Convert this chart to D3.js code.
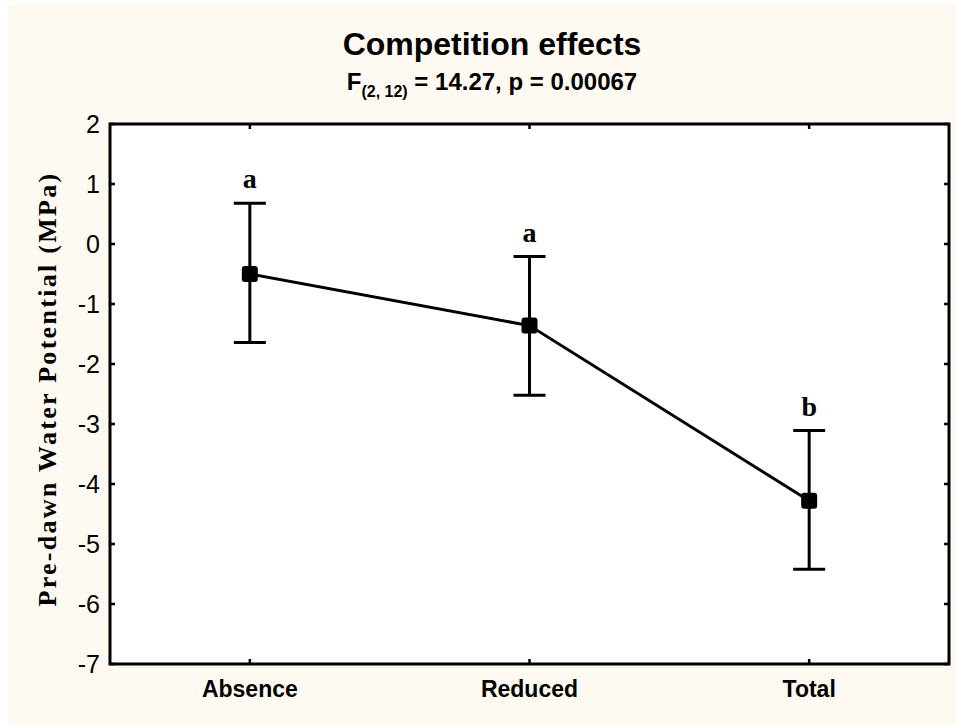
<!DOCTYPE html>
<html><head><meta charset="utf-8">
<script src="https://cdn.jsdelivr.net/npm/d3@7"></script>
<style>html,body{margin:0;padding:0;background:#fff;}</style>
</head><body>
<script>
const categories = ["Absence", "Reduced", "Total"];
const means = [-0.50, -1.36, -4.28];
const upper = [0.68, -0.21, -3.11];
const lower = [-1.64, -2.52, -5.42];
const letters = ["a", "a", "b"];
const yTicks = [2, 1, 0, -1, -2, -3, -4, -5, -6, -7];

const W = 956, H = 725;
const svg = d3.select("body").append("svg").attr("width", W).attr("height", H);
svg.append("rect").attr("x", 8).attr("y", 5).attr("width", W - 8).attr("height", H - 5).attr("fill", "#fffaf1");

const L = 110, R = 949, T = 124, B = 664;
svg.append("rect").attr("x", L).attr("y", T).attr("width", R - L).attr("height", B - T).attr("fill", "#fff");

const x = d3.scalePoint().domain(categories).range([L, R]).padding(0.5);
const y = d3.scaleLinear().domain([-7, 2]).range([B, T]);

const sans = "Liberation Sans, Arial, sans-serif";
const serif = "Liberation Serif, Times New Roman, serif";

const g = svg.append("g");
yTicks.forEach(t => {
  g.append("line").attr("x1", L).attr("x2", L + 5).attr("y1", y(t)).attr("y2", y(t)).attr("stroke", "#000").attr("stroke-width", 2.5);
  g.append("line").attr("x1", R - 5).attr("x2", R).attr("y1", y(t)).attr("y2", y(t)).attr("stroke", "#000").attr("stroke-width", 2.5);
  g.append("text").attr("x", 100).attr("y", y(t)).attr("dy", "0.36em").attr("text-anchor", "end")
    .attr("font-family", sans).attr("font-size", 25).attr("fill", "#000").text(t);
});
categories.forEach(c => {
  g.append("line").attr("x1", x(c)).attr("x2", x(c)).attr("y1", B).attr("y2", B - 5).attr("stroke", "#000").attr("stroke-width", 2.5);
  g.append("line").attr("x1", x(c)).attr("x2", x(c)).attr("y1", T).attr("y2", T + 5).attr("stroke", "#000").attr("stroke-width", 2.5);
  g.append("text").attr("x", x(c)).attr("y", 697).attr("text-anchor", "middle")
    .attr("font-family", sans).attr("font-weight", "bold").attr("font-size", 23).attr("fill", "#000").text(c);
});

svg.append("rect").attr("x", L).attr("y", T).attr("width", R - L).attr("height", B - T)
  .attr("fill", "none").attr("stroke", "#000").attr("stroke-width", 3);

const line = d3.line().x((d, i) => x(categories[i])).y(d => y(d));
svg.append("path").datum(means).attr("d", line).attr("fill", "none").attr("stroke", "#000").attr("stroke-width", 3);

categories.forEach((c, i) => {
  const cx = x(c);
  svg.append("line").attr("x1", cx).attr("x2", cx).attr("y1", y(upper[i])).attr("y2", y(lower[i])).attr("stroke", "#000").attr("stroke-width", 3);
  [upper[i], lower[i]].forEach(v => {
    svg.append("line").attr("x1", cx - 16).attr("x2", cx + 16).attr("y1", y(v)).attr("y2", y(v)).attr("stroke", "#000").attr("stroke-width", 3);
  });
  svg.append("rect").attr("x", cx - 8).attr("y", y(means[i]) - 8).attr("width", 16).attr("height", 16).attr("rx", 3).attr("fill", "#000");
  svg.append("text").attr("x", cx).attr("y", y(upper[i]) - 15).attr("text-anchor", "middle")
    .attr("font-family", serif).attr("font-weight", "bold").attr("font-size", 28).attr("fill", "#000").text(letters[i]);
});

svg.append("text").attr("x", 492).attr("y", 55).attr("text-anchor", "middle")
  .attr("font-family", sans).attr("font-weight", "bold").attr("font-size", 32).attr("fill", "#000").text("Competition effects");
const sub = svg.append("text").attr("x", 492).attr("y", 90).attr("text-anchor", "middle")
  .attr("font-family", sans).attr("font-weight", "bold").attr("font-size", 24).attr("fill", "#000");
sub.append("tspan").text("F");
sub.append("tspan").attr("font-size", 16).attr("dy", 7).text("(2, 12)");
sub.append("tspan").attr("dy", -7).text(" = 14.27, p = 0.00067");

svg.append("text").attr("transform", "translate(56,389) rotate(-90)").attr("text-anchor", "middle")
  .attr("font-family", serif).attr("font-weight", "bold").attr("font-size", 26).attr("letter-spacing", 2.3).attr("fill", "#000")
  .text("Pre-dawn Water Potential (MPa)");
</script>
</body></html>
